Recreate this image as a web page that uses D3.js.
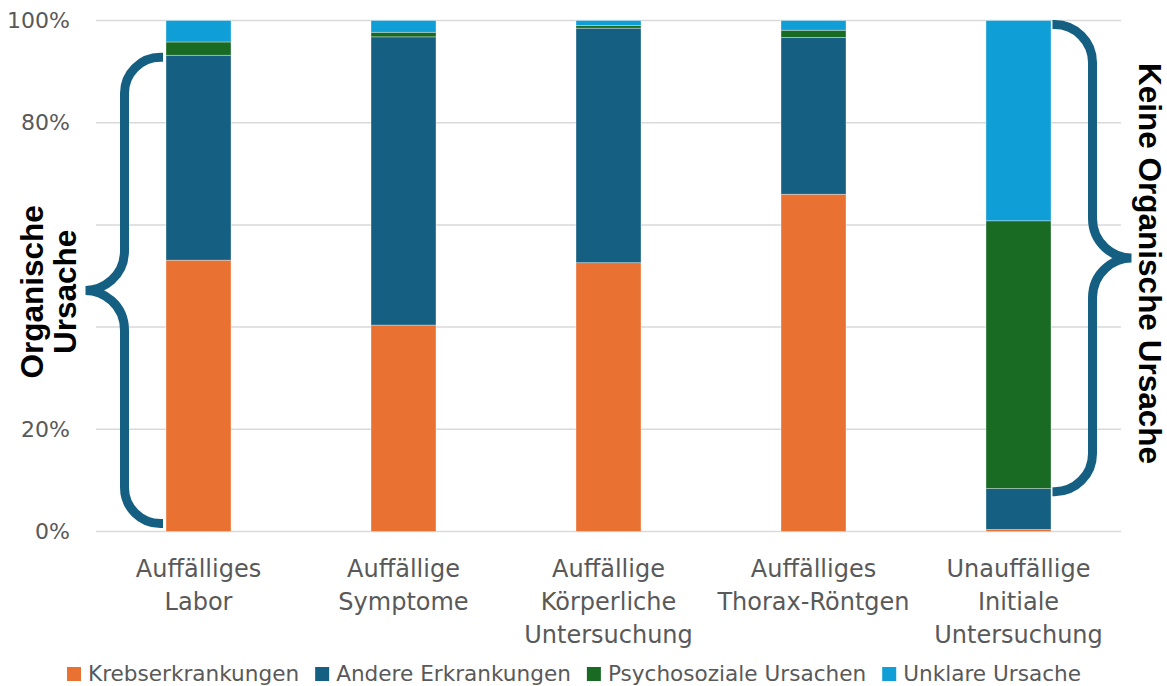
<!DOCTYPE html>
<html lang="de">
<head>
<meta charset="utf-8">
<script src="https://cdn.jsdelivr.net/npm/d3@7"></script>
<style>
  html, body { margin: 0; padding: 0; background: #fff; }
  svg { display: block; }
</style>
</head>
<body>
<svg id="chart" width="1167" height="686"></svg>
<script>
// Befundgruppen (x-Achse), Zeilenumbrüche als Teil-Arrays
const categories = [
  ["Auffälliges", "Labor"],
  ["Auffällige", "Symptome"],
  ["Auffällige", "Körperliche", "Untersuchung"],
  ["Auffälliges", "Thorax-Röntgen"],
  ["Unauffällige", "Initiale", "Untersuchung"]
];

// Anteile je Diagnosegruppe in Prozent
const krebs   = [53.1, 40.4, 52.6, 66.0, 0.4];
const andere  = [40.1, 56.4, 45.9, 30.7, 8.0];
const psycho  = [2.6, 0.9, 0.5, 1.4, 52.4];
const unklar  = [4.2, 2.3, 1.0, 1.9, 39.2];

const seriesNames = ["Krebserkrankungen", "Andere Erkrankungen", "Psychosoziale Ursachen", "Unklare Ursache"];
const seriesColors = ["#E97132", "#156082", "#196B24", "#0F9ED5"];

const gridTicks = [0, 20, 40, 60, 80, 100];
const yTickLabels = [0, 20, 80, 100];

const svg = d3.select("#chart");
const font = "'DejaVu Sans', sans-serif";
const boldFont = "'Liberation Sans', Arial, sans-serif";
const textGrey = "#595959";

const plot = { left: 96, right: 1121, top: 20.5, bottom: 531.5 };

const keys = categories.map(c => c.join(" "));
const rows = keys.map((k, i) => ({
  cat: k,
  [seriesNames[0]]: krebs[i],
  [seriesNames[1]]: andere[i],
  [seriesNames[2]]: psycho[i],
  [seriesNames[3]]: unklar[i]
}));

const x = d3.scaleBand()
  .domain(keys)
  .range([plot.left, plot.right])
  .paddingInner(0.683)
  .paddingOuter(0.3415);

const y = d3.scaleLinear().domain([0, 100]).range([plot.bottom, plot.top]);

const color = d3.scaleOrdinal().domain(seriesNames).range(seriesColors);

// Gitterlinien
svg.append("g")
  .selectAll("line")
  .data(gridTicks)
  .join("line")
  .attr("x1", plot.left)
  .attr("x2", plot.right)
  .attr("y1", d => y(d))
  .attr("y2", d => y(d))
  .attr("stroke", "#d9d9d9")
  .attr("stroke-width", 1.5);

// y-Achse (nur Beschriftung)
const yAxis = svg.append("g")
  .attr("transform", `translate(${plot.left},0)`)
  .call(d3.axisLeft(y).tickValues(yTickLabels).tickFormat(d => d + "%").tickSize(0).tickPadding(26));
yAxis.select(".domain").remove();
yAxis.selectAll("text")
  .attr("font-family", font)
  .attr("font-size", 22)
  .attr("fill", textGrey);

// Gestapelte Säulen
const stacked = d3.stack().keys(seriesNames)(rows);

svg.append("g")
  .selectAll("g")
  .data(stacked)
  .join("g")
  .attr("fill", d => color(d.key))
  .selectAll("rect")
  .data(d => d)
  .join("rect")
  .attr("x", d => x(d.data.cat))
  .attr("width", x.bandwidth())
  .attr("y", d => y(d[1]))
  .attr("height", d => y(d[0]) - y(d[1]))
  .attr("stroke", "#ffffff")
  .attr("stroke-opacity", 0.45)
  .attr("stroke-width", 0.75);

// x-Achsenbeschriftung
const xLabels = svg.append("g");
categories.forEach((lines, i) => {
  const t = xLabels.append("text")
    .attr("x", x(keys[i]) + x.bandwidth() / 2)
    .attr("y", 577)
    .attr("text-anchor", "middle")
    .attr("font-family", font)
    .attr("font-size", 24)
    .attr("fill", textGrey);
  lines.forEach((line, j) => {
    t.append("tspan")
      .attr("x", x(keys[i]) + x.bandwidth() / 2)
      .attr("dy", j === 0 ? 0 : 33)
      .text(line);
  });
});

// Geschweifte Klammern
const braceColor = "#156082";
const braceWidth = 9;

function leftBrace(tipX, top, bottom, vX, midX, r) {
  const mid = (top + bottom) / 2;
  const h = 40;
  const p = d3.path();
  p.moveTo(tipX, top);
  p.lineTo(vX + r, top);
  p.arcTo(vX, top, vX, top + r, r);
  p.lineTo(vX, mid - h);
  p.bezierCurveTo(vX, mid - h * 0.35, midX + (vX - midX) * 0.45, mid, midX, mid);
  p.bezierCurveTo(midX + (vX - midX) * 0.45, mid, vX, mid + h * 0.35, vX, mid + h);
  p.lineTo(vX, bottom - r);
  p.arcTo(vX, bottom, vX + r, bottom, r);
  p.lineTo(tipX, bottom);
  return p.toString();
}

function rightBrace(tipX, top, bottom, vX, midX, r) {
  const mid = (top + bottom) / 2;
  const h = 40;
  const p = d3.path();
  p.moveTo(tipX, top);
  p.lineTo(vX - r, top);
  p.arcTo(vX, top, vX, top + r, r);
  p.lineTo(vX, mid - h);
  p.bezierCurveTo(vX, mid - h * 0.35, midX - (midX - vX) * 0.45, mid, midX, mid);
  p.bezierCurveTo(midX - (midX - vX) * 0.45, mid, vX, mid + h * 0.35, vX, mid + h);
  p.lineTo(vX, bottom - r);
  p.arcTo(vX, bottom, vX - r, bottom, r);
  p.lineTo(tipX, bottom);
  return p.toString();
}

const firstBarX = x(keys[0]);
const lastBarRight = x(keys[4]) + x.bandwidth();

const lTip = firstBarX - 3;
const lV = lTip - 38.5;
svg.append("path")
  .attr("d", leftBrace(lTip, y(92.8), y(1.55), lV, lV - 39, 36))
  .attr("fill", "none")
  .attr("stroke", braceColor)
  .attr("stroke-width", braceWidth);

const rTip = lastBarRight + 1.5;
const rV = rTip + 40;
svg.append("path")
  .attr("d", rightBrace(rTip, y(99.2), y(7.8), rV, rV + 39, 38))
  .attr("fill", "none")
  .attr("stroke", braceColor)
  .attr("stroke-width", braceWidth);

// Klammerbeschriftungen
const leftMid = (y(92.8) + y(1.55)) / 2 + 1.5;
const lt = svg.append("text")
  .attr("transform", `translate(43,${leftMid}) rotate(-90)`)
  .attr("text-anchor", "middle")
  .attr("font-family", boldFont)
  .attr("font-weight", "bold")
  .attr("font-size", 31.5)
  .attr("fill", "#000");
lt.append("tspan").attr("x", 0).attr("dy", 0).text("Organische");
lt.append("tspan").attr("x", 0).attr("dy", 33).text("Ursache");

svg.append("text")
  .attr("transform", `translate(1139,263.5) rotate(90)`)
  .attr("text-anchor", "middle")
  .attr("font-family", boldFont)
  .attr("font-weight", "bold")
  .attr("font-size", 31.5)
  .attr("fill", "#000")
  .text("Keine Organische Ursache");

// Legende
const legend = svg.append("g");
const items = legend.selectAll("g")
  .data(seriesNames)
  .join("g");
items.append("rect")
  .attr("width", 14)
  .attr("height", 14)
  .attr("y", 667)
  .attr("fill", d => color(d));
items.append("text")
  .attr("x", 21)
  .attr("y", 681)
  .attr("font-family", font)
  .attr("font-size", 21.6)
  .attr("fill", textGrey)
  .text(d => d);

let offset = 0;
const widths = [];
items.each(function() {
  const w = d3.select(this).select("text").node().getComputedTextLength();
  widths.push(21 + w);
});
const gap = 16;
const total = d3.sum(widths) + gap * (widths.length - 1);
const start = 574 - total / 2;
items.attr("transform", (d, i) => {
  const tx = start + offset;
  offset += widths[i] + gap;
  return `translate(${tx},0)`;
});
</script>
</body>
</html>
